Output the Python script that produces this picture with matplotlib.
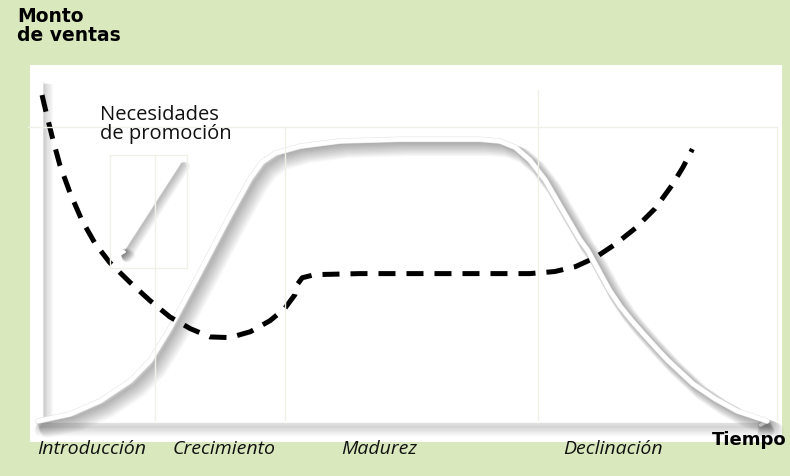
import matplotlib
matplotlib.use("Agg")
import matplotlib.pyplot as plt
import matplotlib.patheffects as pe
from matplotlib.patches import Rectangle
from matplotlib.lines import Line2D

# ---------------- data (time 0-100, amount 0-100) ----------------
sales_x = [0, 4.4, 8.5, 12.6, 15.3, 18.0, 22.1, 26.2, 29.0, 30.6, 32.4, 35.8, 41.3,
           49.5, 60.4, 63.1, 65.2, 67.2, 69.3, 71.3, 74.0, 75.1, 76.6, 78.1, 79.6,
           81.2, 82.7, 84.5, 86.0, 89.5, 92.5, 95.5, 99.6]
sales_y = [0, 2.0, 5.8, 11.6, 17.4, 26.7, 42.9, 59.4, 70.1, 74.8, 77.4, 79.4, 80.9,
           81.4, 81.4, 80.9, 79.1, 75.4, 69.6, 62.3, 52.5, 49.3, 43.5, 37.7, 33.0,
           28.8, 25.2, 21.0, 17.6, 10.7, 6.4, 2.9, 0.0]

promo_x = [0.55, 1.2, 2.05, 3.0, 4.4, 6.0, 7.8, 9.8, 12.6, 15.3, 18.0, 20.8, 23.5,
           26.2, 29.0, 31.7, 33.7, 35.1, 35.4, 36.1, 37.8, 44.0, 56.3, 67.2, 70.6,
           73.4, 76.1, 78.8, 81.6, 84.3, 86.6, 88.1, 89.4]
promo_y = [94.2, 88.4, 81.2, 73.9, 65.8, 58.0, 51.3, 45.8, 40.0, 34.8, 30.1, 26.7, 24.3,
           24.1, 25.8, 29.0, 32.5, 36.5, 39.4, 41.4, 42.3, 42.6, 42.6, 42.6, 43.2,
           44.6, 47.2, 51.0, 55.7, 61.4, 68.1, 73.3, 78.6]

stage_labels = ["Introducción", "Crecimiento", "Madurez", "Declinación"]
stage_px = [92, 224, 379, 613]
y_label = "Monto\nde ventas"
x_label = "Tiempo"
promo_label = "Necesidades\nde promoción"

# ---------------- style ----------------
W, H = 790, 476
GREEN = "#dae8bd"
FAINT = "#f0f1e6"
FONT = ["Open Sans", "DejaVu Sans"]
BOLD_FONT = ["DejaVu Sans"]

def fx(px):
    return px / W

def fy(py):
    return 1 - py / H

def shadow(lw, direction=(1, -1), steps=10, step=0.7, grow=0.6, alpha=0.035,
           edge=None):
    """Soft drop shadow trailing in `direction` (points)."""
    effects = []
    for k in reversed(range(steps)):
        off = (direction[0] * step * (k + 1), direction[1] * step * (k + 1))
        effects.append(pe.SimpleLineShadow(offset=off, shadow_color="black",
                                           alpha=alpha, rho=1.0,
                                           linewidth=lw + grow * k))
    if edge:
        effects.append(pe.Stroke(linewidth=lw + 0.8, foreground=edge))
    effects.append(pe.Normal())
    return effects

fig = plt.figure(figsize=(W / 100, H / 100), dpi=100)
fig.patch.set_facecolor(GREEN)

# white panel
fig.add_artist(Rectangle((fx(30), fy(442)), fx(752), 377 / H,
                         transform=fig.transFigure, facecolor="white",
                         edgecolor="none", zorder=0))

# faint decorative lines
faint_lines = [
    ([28, 777], [127, 127]),
    ([777, 777], [127, 420]),
    ([155, 155], [155, 420]),
    ([285, 285], [127, 420]),
    ([538, 538], [90, 420]),
    ([110, 187], [155, 155]),
    ([110, 110], [155, 268]),
    ([187, 187], [155, 268]),
    ([110, 187], [268, 268]),
]
for xs, ys in faint_lines:
    fig.add_artist(Line2D([fx(v) for v in xs], [fy(v) for v in ys],
                          transform=fig.transFigure, color=FAINT, lw=1, zorder=0.5))

ax = fig.add_axes([fx(38), (H - 421) / H, 732 / W, 346 / H])
ax.set_xlim(0, 100)
ax.set_ylim(0, 100)
ax.axis("off")
ax.patch.set_alpha(0)

# axes (white with shadows)
ax.plot([0.4, 0.4], [0, 98], color="white", lw=2.5, clip_on=False,
        solid_capstyle="butt",
        path_effects=shadow(2.5, direction=(1, -0.3), steps=9, step=0.6,
                            grow=0.5, alpha=0.025), zorder=2)
ann = ax.annotate("", xy=(100.3, 0), xytext=(0, 0),
                  arrowprops=dict(arrowstyle="->", color="white", lw=2.5,
                                  mutation_scale=14, shrinkA=0, shrinkB=0),
                  annotation_clip=False, zorder=2)
ann.arrow_patch.set_path_effects(shadow(2.5, direction=(0.15, -1), steps=10,
                                        step=0.75, grow=0.5, alpha=0.022))

# sales curve
ax.plot(sales_x, sales_y, color="white", lw=3.2, clip_on=False,
        solid_capstyle="round", solid_joinstyle="round",
        path_effects=shadow(3.2, direction=(1, -1), steps=12, step=0.55,
                            grow=0.7, alpha=0.032, edge="#e4e4e4"), zorder=3)

# promotion needs curve
ax.plot(promo_x, promo_y, color="black", lw=3.6, clip_on=False,
        dashes=(3.4, 2.2), dash_capstyle="butt", zorder=4)

# label arrow (white arrow with soft shadow)
arr = ax.annotate("", xy=(fx(120), fy(256)), xytext=(fx(180), fy(163)),
                  xycoords="figure fraction", textcoords="figure fraction",
                  arrowprops=dict(arrowstyle="-|>", color="white", lw=1.2,
                                  mutation_scale=8, shrinkA=0, shrinkB=0),
                  annotation_clip=False, zorder=2)
arr.arrow_patch.set_path_effects(shadow(1.6, direction=(1, -0.6), steps=8,
                                        step=0.5, grow=0.7, alpha=0.04))

# texts
fig.text(fx(17), fy(7), y_label, fontsize=13.5, fontweight="bold", family=BOLD_FONT,
         va="top", ha="left", linespacing=1.0, color="black")
fig.text(fx(100), fy(105), promo_label, fontsize=14.5, family=FONT,
         va="top", ha="left", linespacing=0.92, color="#111111")
for lab, px in zip(stage_labels, stage_px):
    fig.text(fx(px), fy(449), lab, fontsize=14, family=FONT, style="italic",
             ha="center", va="center", color="#111111")
fig.text(fx(712), fy(440), x_label, fontsize=13, fontweight="bold", family=BOLD_FONT,
         ha="left", va="center", color="black")

fig.savefig("out.png", dpi=100, facecolor=GREEN)
